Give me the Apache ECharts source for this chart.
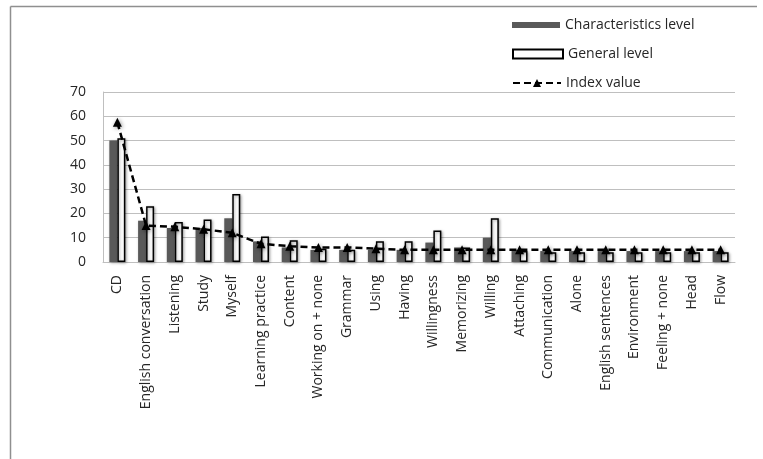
<!DOCTYPE html>
<html>
<head>
<meta charset="utf-8">
<style>
  html, body { margin: 0; padding: 0; background: #fff; }
  #chart { width: 763px; height: 459px; }
</style>
<script src="https://cdn.jsdelivr.net/npm/echarts@6/dist/echarts.min.js"></script>
</head>
<body>
<div id="chart"></div>
<script>
// Categories along the horizontal axis
const categories = [
  'CD', 'English conversation', 'Listening', 'Study', 'Myself',
  'Learning practice', 'Content', 'Working on + none', 'Grammar', 'Using',
  'Having', 'Willingness', 'Memorizing', 'Willing', 'Attaching',
  'Communication', 'Alone', 'English sentences', 'Environment',
  'Feeling + none', 'Head', 'Flow'
];

// Series values
const characteristicsLevel = [50, 17, 14, 14, 18, 8.5, 6, 5, 5, 5, 5, 8, 6, 10, 5, 4.5, 4.5, 4.5, 4.5, 4.5, 4.5, 4.5];
const generalLevel = [51, 23, 16.5, 17.5, 28, 10.5, 9, 5.5, 5, 8.5, 8.5, 13, 6, 18, 4.5, 4, 4, 4, 4, 4, 4, 4];
const indexValue = [57.5, 15, 14.5, 13.5, 12, 7.5, 6.5, 6, 6, 5.5, 5, 5, 5, 5, 5, 5, 5, 5, 5, 5, 5, 5];

// Value axis ticks
const yTicks = [0, 10, 20, 30, 40, 50, 60, 70];

const FONT = '"Open Sans", sans-serif';
const TEXT = '#262626';
const GRID = '#bfbfbf';

const chart = echarts.init(document.getElementById('chart'), null, { renderer: 'canvas' });

const legendText = { color: TEXT, fontSize: 14, fontFamily: FONT };

chart.setOption({
  backgroundColor: '#ffffff',
  animation: false,
  graphic: [
    { type: 'line', shape: { x1: 10.5, y1: 6.5, x2: 757, y2: 6.5 }, style: { stroke: '#8f8f8f', lineWidth: 1.5 } },
    { type: 'line', shape: { x1: 10.5, y1: 6.5, x2: 10.5, y2: 459 }, style: { stroke: '#8f8f8f', lineWidth: 1.5 } }
  ],
  legend: [
    {
      data: ['Characteristics level'], left: 507, top: 13, itemWidth: 48, itemHeight: 6, itemGap: 5,
      icon: 'rect', textStyle: legendText, selectedMode: false
    },
    {
      data: ['General level'], left: 507, top: 42, itemWidth: 50, itemHeight: 9, itemGap: 5,
      icon: 'rect', textStyle: legendText, selectedMode: false
    },
    {
      data: ['Index value'], left: 507, top: 71, itemWidth: 48, itemHeight: 10, itemGap: 5,
      textStyle: legendText, selectedMode: false
    }
  ],
  grid: { left: 103, right: 28, top: 92, bottom: 197, containLabel: false },
  xAxis: {
    type: 'category',
    data: categories,
    axisLine: { show: true, lineStyle: { color: GRID, width: 1 } },
    axisTick: { show: false },
    axisLabel: {
      interval: 0, rotate: 90, margin: 13,
      color: TEXT, fontSize: 14, fontFamily: FONT
    }
  },
  yAxis: {
    type: 'value',
    min: yTicks[0],
    max: yTicks[yTicks.length - 1],
    interval: 10,
    axisLine: { show: true, lineStyle: { color: GRID, width: 1 } },
    axisTick: { show: false },
    splitLine: { show: true, lineStyle: { color: GRID, width: 1 } },
    axisLabel: { color: TEXT, fontSize: 14, fontFamily: FONT, margin: 17 }
  },
  series: [
    {
      name: 'Characteristics level',
      type: 'bar',
      data: characteristicsLevel,
      barWidth: 8,
      barGap: '0%',
      itemStyle: {
        color: '#595959',
        shadowColor: 'rgba(0,0,0,0.35)', shadowBlur: 3, shadowOffsetX: 1, shadowOffsetY: 1
      }
    },
    {
      name: 'General level',
      type: 'bar',
      data: generalLevel,
      barWidth: 8,
      barGap: '0%',
      itemStyle: {
        color: '#ffffff', borderColor: '#000000', borderWidth: 1.5,
        shadowColor: 'rgba(0,0,0,0.35)', shadowBlur: 3, shadowOffsetX: 1, shadowOffsetY: 1
      }
    },
    {
      name: 'Index value',
      type: 'line',
      data: indexValue,
      symbol: 'triangle',
      symbolSize: 9,
      lineStyle: { color: '#000000', width: 2.5, type: [7, 4] },
      itemStyle: {
        color: '#000000',
        shadowColor: 'rgba(0,0,0,0.45)', shadowBlur: 4, shadowOffsetX: 1, shadowOffsetY: 1
      },
      z: 5
    }
  ]
});
</script>
</body>
</html>
